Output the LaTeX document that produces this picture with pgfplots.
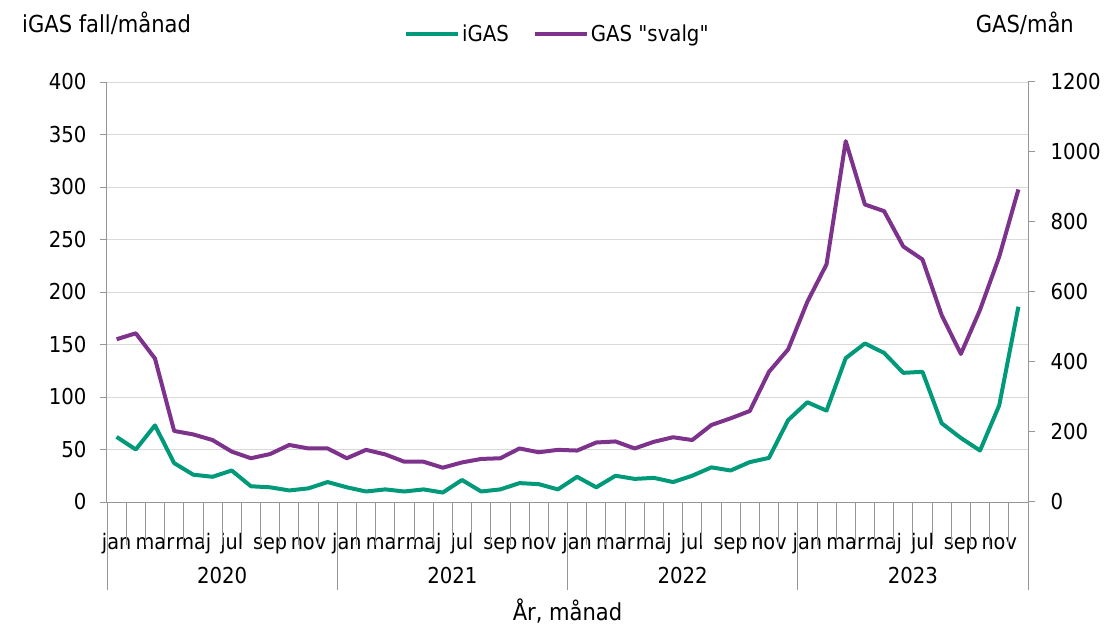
\documentclass[border=0pt]{standalone}
\usepackage{fontspec}
\setmainfont{DejaVu Sans Condensed}
\newfontfamily\nomap{DejaVu Sans Condensed}
\usepackage{pgfplots}
\usepackage{pgfplotstable}
\pgfplotsset{compat=1.18}
\definecolor{igas}{RGB}{0,153,122}
\definecolor{gas}{RGB}{125,50,140}
\definecolor{axgray}{RGB}{150,150,150}
\definecolor{gridgray}{RGB}{217,217,217}

\pgfplotstableread{
i igas gas
0 62 465
1 50 482
2 73 410
3 37 203
4 26 193
5 24 177
6 30 144
7 15 125
8 14 137
9 11 163
10 13 153
11 19 153
12 14 125
13 10 149
14 12 136
15 10 115
16 12 115
17 9 98
18 21 113
19 10 123
20 12 125
21 18 153
22 17 142
23 12 149
24 24 147
25 14 170
26 25 173
27 22 153
28 23 172
29 19 185
30 25 177
31 33 220
32 30 239
33 38 260
34 42 372
35 78 436
36 95 572
37 87 679
38 137 1031
39 151 850
40 142 831
41 123 730
42 124 693
43 75 534
44 61 423
45 49 549
46 92 701
47 186 893
}\data

\begin{document}
\begin{tikzpicture}[font=\fontsize{22}{26}\selectfont]
\useasboundingbox (-107bp,-124bp) rectangle (997bp,502bp);
\begin{axis}[
  at={(0,0)}, anchor=south west,
  scale only axis, width=921bp, height=420bp,
  xmin=-0.5, xmax=47.5, ymin=0, ymax=400,
  axis x line*=bottom, axis y line*=left,
  axis line style={axgray, line width=1bp, -},
  ytick={0,50,...,400},
  ymajorgrids, grid style={gridgray, line width=0.8bp},
  xtick={0,2,...,46},
  xticklabels={jan,mar,maj,jul,sep,nov,jan,mar,maj,jul,sep,nov,jan,mar,maj,jul,sep,nov,jan,mar,maj,jul,sep,nov},
  x tick label style={anchor=base, yshift=-40bp, font=\fontsize{21.5}{26}\selectfont},
  y tick label style={xshift=-10bp},
  x tick style={draw=none},
  major tick length=7bp, tick align=outside,
  y tick style={axgray, line width=1bp},
  /pgf/number format/assume math mode=true,
  /pgf/number format/1000 sep={},
  clip=false,
]
\addplot[igas, line width=4bp, line join=round] table[x=i,y=igas]{\data};
\pgfplotsinvokeforeach{-0.5,0.5,...,47.5}{
  \draw[axgray, line width=0.8bp] (axis cs:#1,0) -- ([yshift=-43bp]axis cs:#1,0);
}
\pgfplotsinvokeforeach{-0.5,11.5,23.5,35.5,47.5}{
  \draw[axgray, line width=0.8bp] (axis cs:#1,0) -- ([yshift=-88bp]axis cs:#1,0);
}
\node[anchor=base] at ([yshift=-81bp]axis cs:5.5,0) {2020};
\node[anchor=base] at ([yshift=-81bp]axis cs:17.5,0) {2021};
\node[anchor=base] at ([yshift=-81bp]axis cs:29.5,0) {2022};
\node[anchor=base] at ([yshift=-81bp]axis cs:41.5,0) {2023};
\node[anchor=base, font=\fontsize{23.5}{26}\selectfont] at ([yshift=-118bp]axis cs:23.5,0) {År, månad};
\node[anchor=base west, inner sep=0pt, font=\fontsize{23.5}{26}\selectfont] at (rel axis cs:-0.0923,1.119) {iGAS fall/månad};
\node[anchor=base east, inner sep=0pt, font=\fontsize{23.5}{26}\selectfont] at (rel axis cs:1.050,1.117) {GAS/mån};
\end{axis}
\begin{axis}[
  at={(0,0)}, anchor=south west,
  scale only axis, width=921bp, height=420bp,
  xmin=-0.5, xmax=47.5, ymin=0, ymax=1200,
  axis x line=none, axis y line*=right,
  axis line style={axgray, line width=1bp, -},
  ytick={0,200,...,1200},
  y tick label style={xshift=12bp},
  major tick length=7bp, tick align=outside,
  y tick style={axgray, line width=1bp},
  /pgf/number format/assume math mode=true,
  /pgf/number format/1000 sep={},
  legend columns=2,
  legend style={at={(rel axis cs:0.489,1.114)}, anchor=center, draw=none, fill=none,
    font=\fontsize{22}{26}\selectfont,
    nodes={inner xsep=2bp},
    /tikz/every even column/.append style={column sep=22bp}},
  legend image code/.code={\draw[#1] (0bp,0bp) -- (52bp,0bp);},
]
\addlegendimage{igas, line width=4bp}
\addlegendentry{iGAS}
\addplot[gas, line width=4bp, line join=round] table[x=i,y=gas]{\data};
\addlegendentry{GAS {\nomap"}svalg{\nomap"}}
\end{axis}
\end{tikzpicture}
\end{document}
